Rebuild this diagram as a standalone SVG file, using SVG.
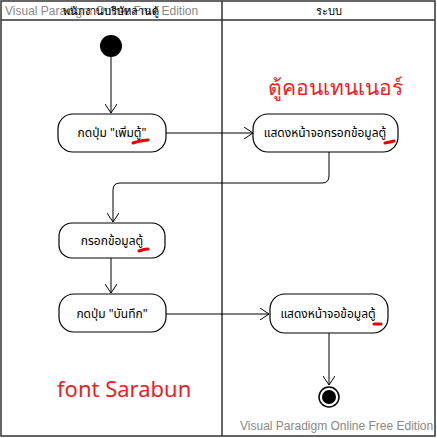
<svg xmlns="http://www.w3.org/2000/svg" width="437" height="438" viewBox="0 0 437 438">
<style>
.wm{font-family:"Liberation Sans",Arial,sans-serif;font-size:12px;fill:#888}
.t{font-family:"Noto Sans","Noto Sans Thai","DejaVu Sans",sans-serif;font-size:12px;fill:#000}
.h{font-family:"Noto Sans","DejaVu Sans",sans-serif;font-size:11px;fill:#000}
.node{fill:#fff;stroke:#000;stroke-width:1.2}
.c{fill:none;stroke:#000;stroke-width:1}
.red{font-family:"Noto Sans","DejaVu Sans",sans-serif;fill:#ee1c25}
.sq{fill:none;stroke:#e00;stroke-width:3;stroke-linecap:round}
</style>
<defs>
<marker id="a" markerWidth="10" markerHeight="12" refX="9" refY="6" orient="auto" markerUnits="userSpaceOnUse">
<path d="M0,0 L9,6 L0,12" fill="none" stroke="#000" stroke-width="1"/>
</marker>
</defs>
<rect width="437" height="438" fill="#fff"/>
<g id="swimlanes">
<rect x="1" y="1" width="434" height="435" fill="none" stroke="#333" stroke-width="1.5"/>
<line x1="1" y1="20" x2="435" y2="20" stroke="#333" stroke-width="1.5"/>
<line x1="222" y1="1" x2="222" y2="436" stroke="#333" stroke-width="1.5"/>
<text class="wm" x="5" y="15">Visual Paradigm Online Free Edition</text>
<text class="h" x="111" y="15" text-anchor="middle">พนักงานบริษัทลานตู้</text>
<text class="h" x="329" y="15" text-anchor="middle">ระบบ</text>
</g>
<g id="connectors">
<line class="c" x1="111" y1="57" x2="111" y2="113" marker-end="url(#a)"/>
<line class="c" x1="166" y1="133" x2="253" y2="133" marker-end="url(#a)"/>
<path class="c" d="M329,152 V176 Q329,183 322,183 H120 Q113,183 113,190 V222" marker-end="url(#a)"/>
<line class="c" x1="111" y1="258" x2="111" y2="293" marker-end="url(#a)"/>
<line class="c" x1="166" y1="314" x2="269" y2="314" marker-end="url(#a)"/>
<line class="c" x1="329" y1="333" x2="329" y2="385" marker-end="url(#a)"/>
</g>
<g id="start"><circle cx="111" cy="46" r="11" fill="#000"/></g>
<g id="n1">
<rect class="node" x="58" y="114" width="108" height="38" rx="15"/>
<text class="t" x="112" y="137" text-anchor="middle">กดปุ่ม "เพิ่มตู้"</text>
<path class="sq" d="M133,143 Q138,141 148,140"/>
</g>
<g id="n2">
<rect class="node" x="253" y="114" width="145" height="38" rx="15"/>
<text class="t" x="325" y="137" text-anchor="middle">แสดงหน้าจอกรอกข้อมูลตู้</text>
<path class="sq" d="M385,143 Q390,142 394,141"/>
</g>
<g id="n3">
<rect class="node" x="59" y="223" width="106" height="35" rx="13"/>
<text class="t" x="112" y="245" text-anchor="middle">กรอกข้อมูลตู้</text>
<path class="sq" d="M139,251 Q144,249 148,249"/>
</g>
<g id="n4">
<rect class="node" x="59" y="294" width="107" height="38" rx="15"/>
<text class="t" x="112" y="318" text-anchor="middle">กดปุ่ม "บันทึก"</text>
</g>
<g id="n5">
<rect class="node" x="270" y="294" width="118" height="39" rx="15"/>
<text class="t" x="328" y="318" text-anchor="middle">แสดงหน้าจอข้อมูลตู้</text>
<path class="sq" d="M374,324 L381,324"/>
</g>
<g id="end">
<circle cx="329" cy="397" r="10" fill="#fff" stroke="#000" stroke-width="1.5"/>
<circle cx="329" cy="397" r="7" fill="#000"/>
</g>
<text class="red" x="268" y="95" font-size="21">ตู้คอนเทนเนอร์</text>
<text class="red" x="57" y="397" font-size="22">font Sarabun</text>
<text class="wm" x="240" y="430">Visual Paradigm Online Free Edition</text>
</svg>
